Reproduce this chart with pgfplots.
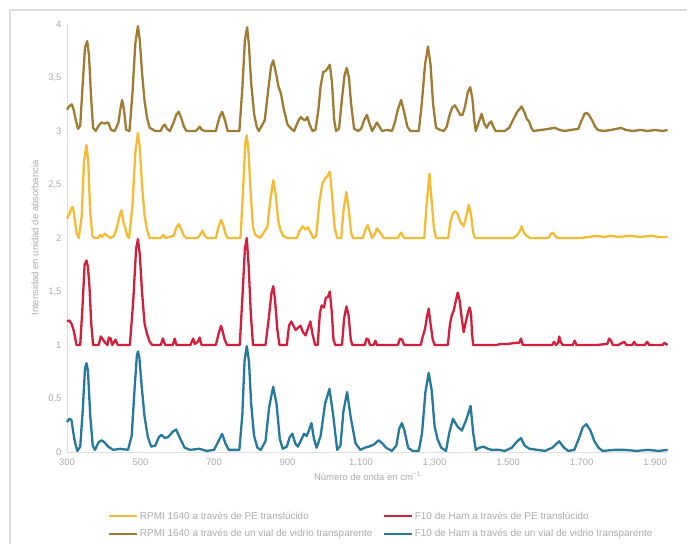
\documentclass[border=0pt]{standalone}
\usepackage{fontspec}
\setmainfont{Liberation Sans}
\usepackage{pgfplots}
\pgfplotsset{compat=1.18}
\definecolor{cgold}{HTML}{9E7C32}
\definecolor{cyel}{HTML}{F4BB35}
\definecolor{cred}{HTML}{D41E3E}
\definecolor{cteal}{HTML}{257A9B}
\definecolor{txt}{HTML}{ABABAB}
\definecolor{framec}{HTML}{DEDEDE}
\begin{document}
\begin{tikzpicture}
\begin{axis}[
  scale only axis, width=601bp, height=428bp,
  xmin=300, xmax=1935, ymin=0, ymax=4,
  clip=false,
  axis lines=left,
  axis line style={-, draw=black!12, line width=0.8bp},
  xtick={300,500,700,900,1100,1300,1500,1700,1900},
  ytick={0,0.5,1,1.5,2,2.5,3,3.5,4},
  major tick length=0pt,
  scaled ticks=false,
  /pgf/number format/assume math mode=true,
  tick label style={font=\fontsize{9.5}{11}\selectfont, text=txt},
  xticklabel style={/pgf/number format/1000 sep={.}, yshift=-3bp},
  yticklabel style={/pgf/number format/use comma, xshift=-2bp},
  xlabel={Número de onda en cm\textsuperscript{−1}},
  ylabel={Intensidad en unidad de absorbancia},
  ylabel style={yshift=3bp},
  label style={font=\fontsize{9.5}{11}\selectfont, text=txt},
  legend columns=2,
  legend cell align=left,
  legend style={at={(0.5225,-0.1706)}, anchor=center, draw=none, fill=none,
    font=\fontsize{10}{12}\selectfont, text=txt,
    /tikz/every even column/.append style={column sep=8bp}, row sep=5bp},
  legend image code/.code={\draw[#1] (0bp,0bp) -- (28bp,0bp);},
  every axis plot/.append style={line width=2.3bp, line join=round},
]
% RPMI 1640 PE (yellow)
\addplot[cyel] table {
300 2.18
306 2.22
312 2.28
316 2.29
320 2.20
326 2.05
332 2.00
340 2.20
346 2.70
353 2.87
358 2.70
363 2.25
369 2.02
374 2.00
386 2.00
390 2.03
396 2.01
402 2.04
410 2.02
418 2.00
428 2.02
435 2.09
441 2.18
448 2.26
454 2.14
459 2.09
464 2.02
469 2.00
478 2.30
486 2.80
493 2.98
498 2.85
504 2.50
511 2.21
518 2.07
525 2.00
555 2.00
562 2.03
568 2.00
590 2.02
598 2.10
604 2.13
611 2.08
618 2.02
625 2.00
655 2.00
662 2.03
669 2.07
675 2.02
682 2.00
705 2.00
712 2.10
719 2.17
725 2.12
731 2.04
737 2.00
772 2.00
779 2.45
785 2.88
789 2.96
794 2.80
800 2.40
806 2.10
812 2.03
825 2.00
845 2.10
853 2.35
861 2.54
868 2.40
874 2.18
880 2.08
888 2.02
900 2.00
925 2.00
932 2.06
941 2.11
948 2.08
955 2.10
963 2.05
970 2.00
978 2.02
987 2.35
995 2.51
1003 2.56
1009 2.58
1015 2.62
1021 2.40
1028 2.10
1035 2.00
1046 2.00
1052 2.25
1060 2.43
1067 2.25
1073 2.05
1078 2.00
1105 2.00
1112 2.08
1118 2.12
1124 2.06
1130 2.00
1138 2.04
1143 2.09
1150 2.06
1156 2.03
1162 2.00
1200 2.00
1205 2.03
1209 2.05
1214 2.02
1218 2.00
1272 2.00
1278 2.30
1286 2.60
1292 2.35
1298 2.10
1304 2.00
1337 2.00
1343 2.15
1350 2.23
1356 2.25
1362 2.23
1370 2.15
1379 2.11
1386 2.20
1393 2.31
1399 2.22
1405 2.05
1410 2.00
1515 2.00
1525 2.03
1531 2.06
1537 2.11
1543 2.05
1550 2.02
1560 2.00
1610 2.00
1617 2.04
1622 2.05
1628 2.02
1635 2.00
1700 2.00
1720 2.01
1740 2.02
1760 2.01
1780 2.02
1800 2.01
1830 2.02
1860 2.01
1890 2.02
1910 2.01
1934 2.01
};
\addlegendentry{RPMI 1640 a través de PE translúcido}
% F10 Ham PE (red)
\addplot[cred] table {
300 1.22
306 1.23
312 1.20
318 1.14
326 1.00
336 1.00
342 1.35
348 1.75
353 1.79
357 1.73
361 1.55
366 1.20
371 1.00
386 1.00
392 1.08
398 1.05
404 1.02
410 1.00
414 1.07
419 1.06
423 1.00
432 1.05
438 1.00
471 1.00
480 1.40
488 1.90
493 1.99
498 1.85
504 1.50
511 1.20
518 1.10
525 1.03
532 1.00
555 1.00
561 1.06
567 1.00
588 1.00
593 1.06
598 1.00
636 1.00
643 1.06
648 1.01
656 1.03
661 1.07
666 1.00
705 1.00
712 1.10
719 1.18
724 1.12
729 1.05
735 1.00
770 1.00
778 1.50
784 1.90
789 2.00
794 1.75
800 1.30
806 1.00
840 1.00
849 1.25
856 1.48
861 1.55
866 1.42
872 1.15
878 1.00
898 1.00
904 1.18
910 1.22
916 1.18
922 1.14
928 1.16
935 1.18
942 1.12
949 1.09
955 1.15
962 1.22
968 1.10
975 1.00
982 1.00
988 1.30
993 1.37
999 1.35
1004 1.44
1010 1.45
1015 1.50
1020 1.32
1025 1.05
1030 1.00
1048 1.00
1054 1.25
1060 1.36
1066 1.28
1072 1.05
1076 1.00
1110 1.00
1115 1.06
1120 1.05
1124 1.00
1134 1.00
1139 1.04
1143 1.00
1200 1.00
1206 1.06
1212 1.05
1217 1.00
1262 1.00
1268 1.08
1274 1.15
1279 1.26
1284 1.34
1289 1.20
1295 1.05
1300 1.00
1336 1.00
1342 1.20
1347 1.28
1352 1.32
1357 1.40
1363 1.49
1368 1.42
1372 1.30
1376 1.20
1379 1.12
1384 1.20
1388 1.26
1392 1.32
1395 1.35
1399 1.30
1402 1.10
1405 1.00
1470 1.00
1478 1.01
1500 1.01
1520 1.02
1530 1.02
1535 1.06
1540 1.00
1580 1.00
1620 1.00
1625 1.03
1630 1.00
1636 1.02
1639 1.08
1643 1.03
1648 1.00
1676 1.00
1681 1.04
1686 1.00
1740 1.00
1770 1.01
1775 1.06
1780 1.04
1785 1.00
1800 1.00
1810 1.02
1816 1.03
1822 1.00
1838 1.00
1843 1.03
1848 1.00
1872 1.00
1878 1.03
1884 1.00
1920 1.00
1925 1.02
1934 1.00
};
\addlegendentry{F10 de Ham a través de PE translúcido}
% RPMI 1640 vial (dark gold)
\addplot[cgold] table {
300 3.20
306 3.23
313 3.25
318 3.20
324 3.10
330 3.02
336 3.05
342 3.40
349 3.78
355 3.84
360 3.70
365 3.35
371 3.03
378 3.00
386 3.05
394 3.08
403 3.07
412 3.08
420 3.01
430 3.00
440 3.08
445 3.20
450 3.29
455 3.20
461 3.01
470 3.00
478 3.35
486 3.82
493 3.98
498 3.85
504 3.55
511 3.28
518 3.12
525 3.03
540 3.00
555 3.00
560 3.04
566 3.06
572 3.02
580 3.00
590 3.08
597 3.15
604 3.18
611 3.12
618 3.04
625 3.00
650 3.00
656 3.02
661 3.04
667 3.01
675 3.00
705 3.00
714 3.12
722 3.18
730 3.10
737 3.00
769 3.00
777 3.40
784 3.85
790 3.97
795 3.80
801 3.45
809 3.16
816 3.04
822 3.00
838 3.10
848 3.40
855 3.60
861 3.66
868 3.55
875 3.42
882 3.35
890 3.20
900 3.06
910 3.02
918 3.00
925 3.06
930 3.10
936 3.13
942 3.11
948 3.10
954 3.13
960 3.06
968 3.00
976 3.01
984 3.20
990 3.42
997 3.55
1003 3.56
1008 3.58
1015 3.62
1021 3.45
1027 3.10
1032 3.00
1040 3.02
1048 3.30
1055 3.52
1061 3.59
1067 3.50
1073 3.25
1081 3.02
1092 3.00
1100 3.02
1108 3.10
1116 3.15
1122 3.08
1130 3.00
1137 3.04
1143 3.08
1150 3.04
1157 3.00
1170 3.01
1184 3.00
1192 3.08
1200 3.20
1209 3.29
1217 3.18
1226 3.04
1234 3.00
1257 3.00
1265 3.25
1274 3.62
1282 3.79
1289 3.62
1296 3.25
1304 3.03
1315 3.01
1325 3.00
1333 3.04
1340 3.14
1348 3.22
1355 3.24
1362 3.20
1370 3.15
1376 3.15
1383 3.23
1390 3.36
1397 3.41
1403 3.30
1408 3.10
1412 3.00
1420 3.08
1428 3.16
1435 3.07
1442 3.03
1448 3.07
1454 3.09
1460 3.04
1466 3.00
1480 3.00
1491 3.00
1503 3.03
1513 3.10
1525 3.18
1537 3.23
1545 3.17
1551 3.11
1557 3.09
1563 3.03
1569 3.00
1590 3.01
1610 3.02
1627 3.03
1640 3.01
1654 3.00
1670 3.01
1691 3.02
1700 3.10
1708 3.16
1713 3.17
1720 3.15
1730 3.09
1737 3.04
1744 3.01
1760 3.00
1780 3.01
1795 3.02
1807 3.03
1820 3.01
1840 3.00
1860 3.01
1880 3.00
1900 3.01
1920 3.00
1934 3.01
};
\addlegendentry{RPMI 1640 a través de un vial de vidrio transparente}
% F10 Ham vial (teal)
\addplot[cteal] table {
300 0.28
306 0.31
312 0.30
320 0.12
328 0.01
336 0.05
343 0.40
349 0.78
353 0.83
357 0.76
363 0.35
370 0.06
376 0.02
386 0.09
394 0.11
402 0.09
412 0.05
426 0.02
445 0.03
466 0.02
476 0.15
484 0.60
490 0.90
493 0.94
497 0.88
503 0.62
511 0.33
520 0.14
529 0.05
540 0.06
550 0.14
557 0.16
566 0.13
575 0.14
588 0.19
597 0.21
606 0.14
620 0.04
635 0.02
660 0.03
680 0.01
700 0.02
712 0.10
722 0.17
731 0.08
740 0.02
769 0.02
777 0.35
783 0.85
789 0.99
795 0.85
801 0.45
809 0.15
818 0.04
827 0.02
840 0.10
850 0.42
861 0.61
870 0.45
879 0.12
887 0.03
898 0.05
906 0.14
913 0.17
921 0.08
928 0.05
938 0.12
945 0.17
952 0.15
958 0.20
965 0.27
972 0.12
979 0.04
990 0.15
1002 0.45
1014 0.59
1024 0.35
1035 0.02
1044 0.06
1052 0.38
1062 0.56
1072 0.32
1085 0.08
1098 0.02
1110 0.04
1121 0.05
1135 0.07
1148 0.11
1158 0.08
1168 0.04
1184 0.01
1196 0.06
1204 0.22
1211 0.27
1218 0.20
1228 0.04
1240 0.01
1257 0.01
1266 0.18
1275 0.56
1284 0.74
1292 0.58
1300 0.24
1308 0.12
1318 0.04
1331 0.01
1340 0.18
1350 0.31
1362 0.24
1374 0.20
1386 0.30
1398 0.43
1405 0.18
1412 0.02
1422 0.04
1433 0.05
1445 0.03
1455 0.02
1475 0.02
1491 0.01
1510 0.04
1525 0.10
1535 0.13
1545 0.06
1558 0.03
1580 0.02
1600 0.01
1620 0.04
1639 0.10
1652 0.04
1664 0.01
1680 0.02
1692 0.12
1703 0.23
1713 0.26
1724 0.20
1735 0.10
1746 0.04
1757 0.01
1790 0.02
1816 0.02
1850 0.01
1880 0.02
1910 0.01
1934 0.02
};
\addlegendentry{F10 de Ham a través de un vial de vidrio transparente}
\coordinate (BL) at (rel axis cs:-0.11148,-0.21495);
\coordinate (TR) at (rel axis cs:1.03161,1.05607);
\draw[framec, line width=1.5bp] (rel axis cs:-0.09484,-0.3) -- (rel axis cs:-0.09484,1.03271) -- (rel axis cs:1.1,1.03271);
\end{axis}
\pgfresetboundingbox
\useasboundingbox (BL) rectangle (TR);
\end{tikzpicture}
\end{document}
